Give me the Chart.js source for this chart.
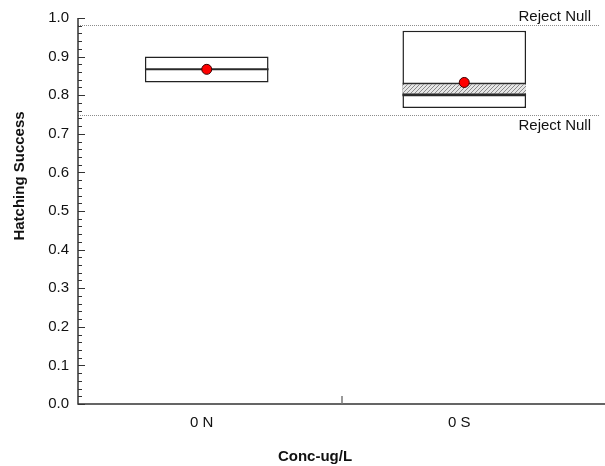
<!DOCTYPE html>
<html>
<head>
<meta charset="utf-8">
<script src="https://cdn.jsdelivr.net/npm/chart.js@4.4.1/dist/chart.umd.min.js"></script>
<style>
  html, body { margin: 0; padding: 0; background: #fff; }
  #wrap { width: 605px; height: 466px; position: relative; }
</style>
</head>
<body>
<div id="wrap"><canvas id="chart"></canvas></div>
<script>
// hatching success per group
const categories = ['0 N', '0 S'];
const boxLow = [0.833, 0.767];
const boxHigh = [0.9, 0.967];
const medians = [0.867, 0.8];
const means = [0.867, 0.833];
const bandLow = [null, 0.8];
const bandHigh = [null, 0.833];
const rejectNull = [0.983, 0.75];

const Y_MIN = 0;
const Y_MAX = 1;
const MAJOR_STEP = 0.1;
const MINOR_STEP = 0.02;

const FONT = '"Liberation Sans", Arial, sans-serif';

function hatchPattern() {
    const c = document.createElement('canvas');
    c.width = 4;
    c.height = 4;
    const g = c.getContext('2d');
    g.fillStyle = '#e6e6e6';
    g.fillRect(0, 0, 4, 4);
    g.strokeStyle = '#8a8a8a';
    g.lineWidth = 1;
    g.beginPath();
    g.moveTo(0, 4);
    g.lineTo(4, 0);
    g.moveTo(-1, 1);
    g.lineTo(1, -1);
    g.moveTo(3, 5);
    g.lineTo(5, 3);
    g.stroke();
    return g.createPattern(c, 'repeat');
}

// median lines sit on top of the box fill
const medianLines = {
    id: 'medianLines',
    afterDatasetDraw(chart, args) {
        if (args.index !== 2) return;
        const {ctx} = chart;
        const y = chart.scales.y;
        ctx.save();
        ctx.strokeStyle = '#2a2a2a';
        ctx.lineWidth = 2;
        args.meta.data.forEach((bar, i) => {
            if (medians[i] == null) return;
            const py = y.getPixelForValue(medians[i]);
            ctx.beginPath();
            ctx.moveTo(bar.x - bar.width / 2, py);
            ctx.lineTo(bar.x + bar.width / 2, py);
            ctx.stroke();
        });
        ctx.restore();
    }
};

const rejectLines = {
    id: 'rejectLines',
    beforeDatasetsDraw(chart) {
        const {ctx, chartArea: a} = chart;
        const y = chart.scales.y;
        const top = Math.max(...rejectNull);
        ctx.save();
        ctx.strokeStyle = '#8c8c8c';
        ctx.lineWidth = 1;
        ctx.setLineDash([1, 1]);
        ctx.font = '15px ' + FONT;
        ctx.fillStyle = '#111';
        ctx.textAlign = 'right';
        rejectNull.forEach(v => {
            const py = Math.round(y.getPixelForValue(v)) + 0.5;
            ctx.beginPath();
            ctx.moveTo(a.left, py);
            ctx.lineTo(chart.width - 5, py);
            ctx.stroke();
            if (v === top) {
                ctx.textBaseline = 'bottom';
                ctx.fillText('Reject Null', chart.width - 14, py - 1);
            } else {
                ctx.textBaseline = 'top';
                ctx.fillText('Reject Null', chart.width - 14, py + 3);
            }
        });
        ctx.restore();
    }
};

const axisDecor = {
    id: 'axisDecor',
    afterDraw(chart) {
        const {ctx, chartArea: a} = chart;
        const y = chart.scales.y;
        ctx.save();
        ctx.strokeStyle = '#333';
        ctx.lineWidth = 1.5;
        ctx.beginPath();
        ctx.moveTo(a.left, y.getPixelForValue(Y_MAX));
        ctx.lineTo(a.left, a.bottom);
        ctx.lineTo(chart.width, a.bottom);
        ctx.stroke();

        // inward ticks, long on the labelled ones
        ctx.lineWidth = 1;
        const n = Math.round((Y_MAX - Y_MIN) / MINOR_STEP);
        const every = Math.round(MAJOR_STEP / MINOR_STEP);
        for (let i = 0; i <= n; i++) {
            const py = Math.round(y.getPixelForValue(Y_MIN + i * MINOR_STEP)) + 0.5;
            const len = i % every === 0 ? 7 : 4;
            ctx.beginPath();
            ctx.moveTo(a.left, py);
            ctx.lineTo(a.left + len, py);
            ctx.stroke();
        }

        // divider tick between the groups
        ctx.strokeStyle = '#777';
        ctx.lineWidth = 1.5;
        const mid = Math.round((a.left + chart.width) / 2);
        ctx.beginPath();
        ctx.moveTo(mid, a.bottom);
        ctx.lineTo(mid, a.bottom - 8);
        ctx.stroke();

        // axis titles
        ctx.fillStyle = '#111';
        ctx.font = 'bold 15px ' + FONT;
        ctx.textAlign = 'center';
        ctx.textBaseline = 'middle';
        ctx.fillText('Conc-ug/L', 315, 457);
        ctx.translate(20, 176);
        ctx.rotate(-Math.PI / 2);
        ctx.fillText('Hatching Success', 0, 0);
        ctx.restore();
    }
};

const boxData = boxLow.map((lo, i) => [lo, boxHigh[i]]);
const bandData = bandLow.map((lo, i) => (lo == null ? null : [lo, bandHigh[i]]));

new Chart(document.getElementById('chart'), {
    type: 'bar',
    data: {
        labels: categories,
        datasets: [
            {
                type: 'line',
                label: 'Mean',
                data: means,
                showLine: false,
                pointRadius: 5,
                pointHoverRadius: 5,
                pointBackgroundColor: '#ff0000',
                pointBorderColor: '#3a0000',
                pointBorderWidth: 1
            },
            {
                label: 'Band',
                data: bandData,
                grouped: false,
                backgroundColor: hatchPattern(),
                borderColor: '#2a2a2a',
                borderWidth: {top: 2, bottom: 2, left: 0, right: 0},
                borderSkipped: false,
                barPercentage: 0.48,
                categoryPercentage: 1
            },
            {
                label: 'Box',
                data: boxData,
                grouped: false,
                backgroundColor: '#ffffff',
                borderColor: '#222',
                borderWidth: 1.5,
                borderSkipped: false,
                barPercentage: 0.48,
                categoryPercentage: 1
            }
        ]
    },
    options: {
        responsive: true,
        maintainAspectRatio: false,
        animation: false,
        layout: {
            padding: {top: 17, right: 12, left: 0, bottom: 0}
        },
        plugins: {
            legend: {display: false},
            tooltip: {enabled: false}
        },
        scales: {
            x: {
                type: 'category',
                offset: true,
                grid: {display: false, drawTicks: false},
                border: {display: false},
                ticks: {
                    font: {family: FONT, size: 15},
                    color: '#111',
                    padding: 10,
                    labelOffset: -5
                },
                afterFit: s => { s.height = 62; }
            },
            y: {
                min: Y_MIN,
                max: Y_MAX,
                grid: {display: false, drawTicks: false},
                border: {display: false},
                ticks: {
                    stepSize: MAJOR_STEP,
                    font: {family: FONT, size: 15},
                    color: '#111',
                    padding: 9,
                    callback: v => v.toFixed(1)
                },
                afterFit: s => { s.width = 78; }
            }
        }
    },
    plugins: [rejectLines, medianLines, axisDecor]
});
</script>
</body>
</html>
